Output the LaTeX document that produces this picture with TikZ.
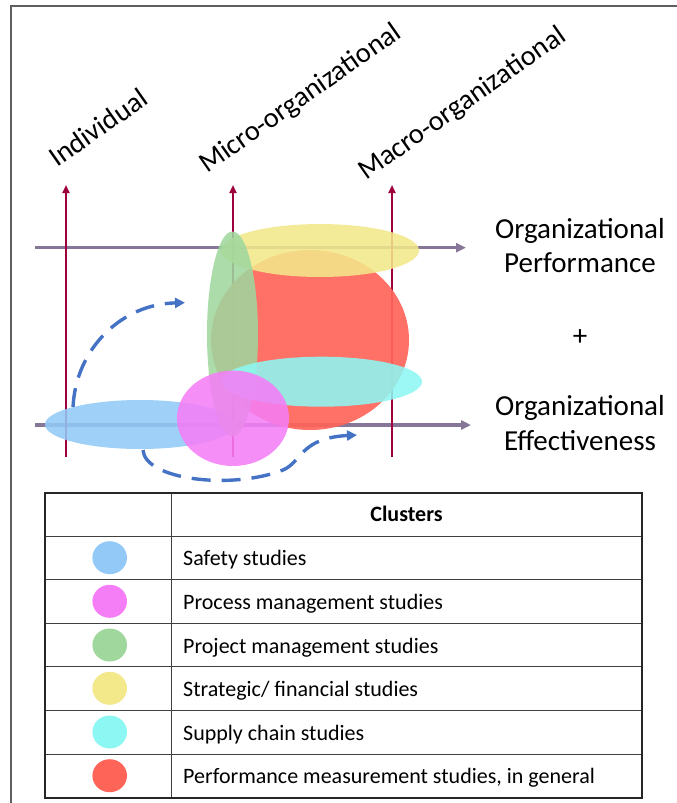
\documentclass[tikz,border=0pt]{standalone}
\usepackage{fontspec}
\setmainfont{Carlito}
\usetikzlibrary{arrows.meta}
\definecolor{vred}{RGB}{158,0,62}
\definecolor{hgray}{RGB}{134,119,152}
\definecolor{dblue}{RGB}{68,114,196}
\definecolor{cblue}{RGB}{146,201,247}
\definecolor{cmag}{RGB}{245,126,247}
\definecolor{cgreen}{RGB}{159,215,157}
\definecolor{cyellow}{RGB}{243,232,138}
\definecolor{ccyan}{RGB}{141,247,243}
\definecolor{cred}{RGB}{255,100,89}
\definecolor{frame}{RGB}{95,95,95}
\begin{document}
\begin{tikzpicture}[x=1pt,y=-1pt,
  vaxis/.style={draw=vred, line width=2.5pt, -{Triangle[length=8pt,width=7pt]}},
  haxis/.style={draw=hgray, line width=3.3pt, -{Triangle[length=10pt,width=9pt]}},
  blob/.style={fill opacity=0.88},
  dasharrow/.style={draw=dblue, line width=3.4pt, dash pattern=on 19pt off 11pt, -{Triangle[length=10pt,width=10pt]}},
  biglabel/.style={inner sep=0pt, font=\fontsize{29}{35}\selectfont},
  toplabel/.style={rotate=35, anchor=base west, inner sep=0pt, font=\fontsize{28.5}{35}\selectfont},
  celltext/.style={anchor=base west, inner sep=0pt, font=\fontsize{22}{26}\selectfont}
]
\useasboundingbox (0,0) rectangle (677,803);
% frame
\draw[frame, line width=1.5pt] (11,803) -- (11,6) -- (677,6);

% axis coordinates
\coordinate (h1s) at (35,247.7);  \coordinate (h1e) at (466,247.7);
\coordinate (h2s) at (35,425);    \coordinate (h2e) at (471,425);
\coordinate (v1s) at (66,457);    \coordinate (v1e) at (66,185);
\coordinate (v2s) at (233,457);   \coordinate (v2e) at (233,185);
\coordinate (v3s) at (392,457);   \coordinate (v3e) at (392,185);

\draw[haxis] (h1s) -- (h1e);
\draw[haxis] (h2s) -- (h2e);
\draw[vaxis] (v1s) -- (v1e);
\draw[vaxis] (v2s) -- (v2e);
\draw[vaxis] (v3s) -- (v3e);

% cluster blobs
\fill[cred, fill opacity=0.92] (310,340) ellipse [x radius=99, y radius=90];
\fill[cyellow, blob] (320,250.5) ellipse [x radius=99, y radius=26.5];
\fill[cblue, blob] (140,424.5) ellipse [x radius=95, y radius=24.5];
\fill[cgreen, blob] (232.5,334) ellipse [x radius=25.5, y radius=102.5];
\fill[ccyan, blob] (321.5,381.7) ellipse [x radius=100.5, y radius=25];
\fill[cmag, blob] (233,418.3) ellipse [x radius=56, y radius=47.7];

% dashed arrows
\coordinate (d1s) at (73,407);  \coordinate (d1e) at (185,302.7);
\coordinate (d2s) at (143,450); \coordinate (d2m) at (283,470); \coordinate (d2e) at (357,435);
\draw[dasharrow] (d1s) .. controls (76,348) and (122,304) .. (d1e);
\draw[dasharrow] (d2s) .. controls (145,480) and (232,490) .. (d2m) .. controls (302,462) and (300,438) .. (d2e);

% top labels
\node[toplabel] (lind) at (57,168) {Individual};
\node[toplabel] (lmicro) at (207,174) {Micro-organizational};
\node[toplabel] (lmacro) at (366,181) {Macro-organizational};

% right labels
\node[biglabel, anchor=base] (op1) at (580,238.3) {Organizational};
\node[biglabel, anchor=base] (op2) at (580,272.7) {Performance};
\node[biglabel, anchor=base] (plus) at (580,345) {+};
\node[biglabel, anchor=base] (oe1) at (580,415) {Organizational};
\node[biglabel, anchor=base] (oe2) at (580,450) {Effectiveness};

% table
\draw[black!75, line width=1pt] (44.5,536) -- (642,536);
\draw[black!75, line width=1pt] (44.5,579.3) -- (642,579.3);
\draw[black!75, line width=1pt] (44.5,623.3) -- (642,623.3);
\draw[black!75, line width=1pt] (44.5,666.7) -- (642,666.7);
\draw[black!75, line width=1pt] (44.5,710) -- (642,710);
\draw[black!75, line width=1pt] (44.5,754) -- (642,754);
\draw[black!75, line width=1pt] (171,492.7) -- (171,797.5);
\draw[black!85, line width=2pt] (44.5,492.7) rectangle (642,797.5);

\node[celltext, anchor=base, font=\fontsize{22}{26}\selectfont\bfseries] (hdr) at (406.5,521.7) {Clusters};

\fill[cblue] (109.7,557.7) ellipse [x radius=17.3, y radius=16.5];
\fill[cmag] (109.7,601.3) ellipse [x radius=17.3, y radius=16.5];
\fill[cgreen] (109.7,645) ellipse [x radius=17.3, y radius=16.5];
\fill[cyellow] (109.7,688.3) ellipse [x radius=17.3, y radius=16.5];
\fill[ccyan] (109.7,732) ellipse [x radius=17.3, y radius=16.5];
\fill[cred] (109.7,775.7) ellipse [x radius=17.3, y radius=16.5];

\node[celltext] (t1) at (183,565.7) {Safety studies};
\node[celltext] (t2) at (183,609.3) {Process management studies};
\node[celltext] (t3) at (183,653) {Project management studies};
\node[celltext] (t4) at (183,696.3) {Strategic/ financial studies};
\node[celltext] (t5) at (183,740) {Supply chain studies};
\node[celltext] (t6) at (183,783.7) {Performance measurement studies, in general};
\end{tikzpicture}
\end{document}
